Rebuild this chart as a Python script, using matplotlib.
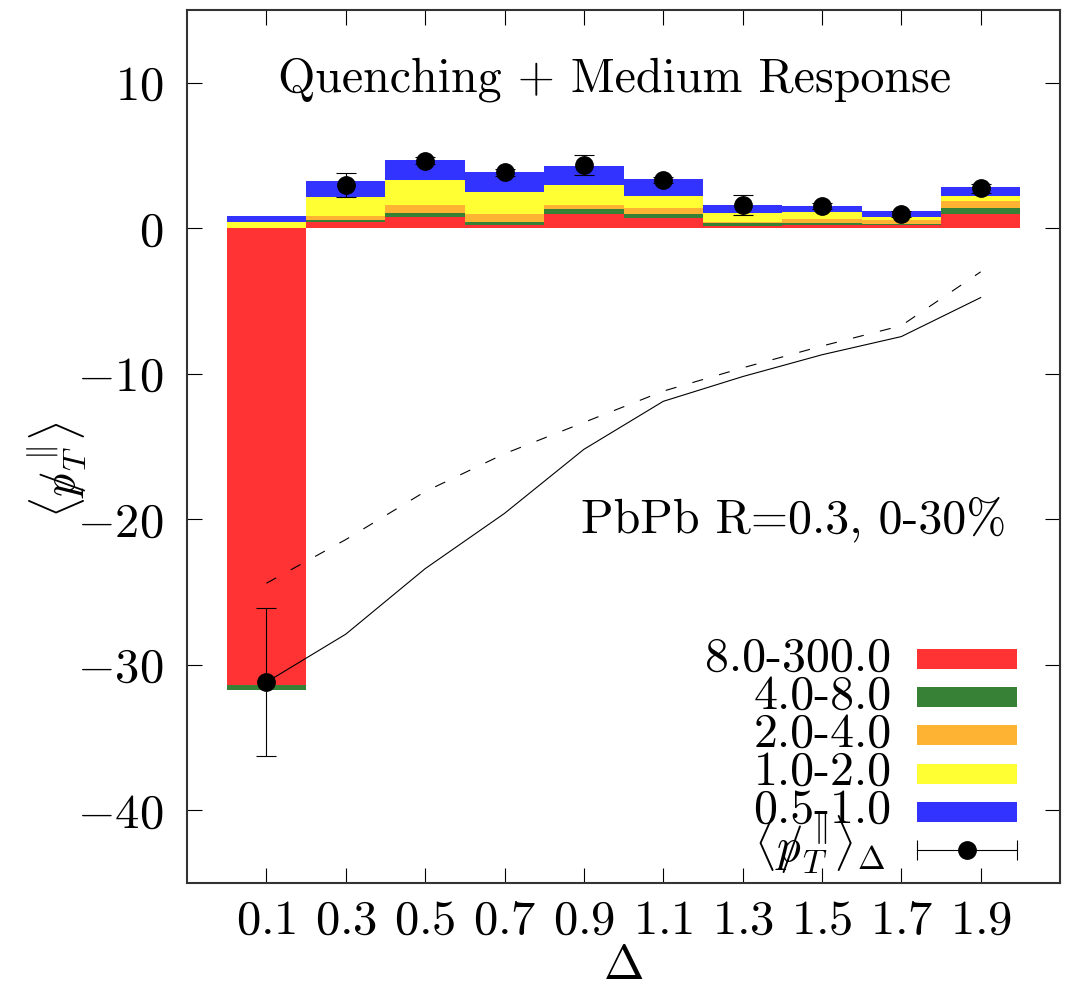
import numpy as np
import matplotlib
matplotlib.use('Agg')
import matplotlib.pyplot as plt
from matplotlib.patches import Rectangle

plt.rcParams['mathtext.fontset'] = 'cm'
plt.rcParams['font.family'] = ['cmr10', 'DejaVu Serif']
plt.rcParams['axes.formatter.use_mathtext'] = True

# Delta bins (centres) and bin width
delta = [0.1, 0.3, 0.5, 0.7, 0.9, 1.1, 1.3, 1.5, 1.7, 1.9]
delta_labels = ['0.1', '0.3', '0.5', '0.7', '0.9', '1.1', '1.3', '1.5', '1.7', '1.9']
bin_width = 0.2

# stacked contributions per track-pT bin (GeV)
pt_bins = ['8.0-300.0', '4.0-8.0', '2.0-4.0', '1.0-2.0', '0.5-1.0']
bin_colors = ['#ff3333', '#368136', '#ffb333', '#ffff33', '#3333ff']
contrib_8_300 = [-31.4, 0.44, 0.78, 0.21, 0.96, 0.69, 0.16, 0.25, 0.23, 0.99]
contrib_4_8 = [-0.35, 0.09, 0.25, 0.23, 0.34, 0.27, 0.18, 0.14, 0.07, 0.37]
contrib_2_4 = [0.0, 0.34, 0.57, 0.53, 0.32, 0.41, 0.11, 0.23, 0.23, 0.53]
contrib_1_2 = [0.43, 1.26, 1.70, 1.49, 1.33, 0.85, 0.57, 0.46, 0.25, 0.34]
contrib_05_1 = [0.39, 1.12, 1.40, 1.37, 1.33, 1.15, 0.60, 0.46, 0.37, 0.57]
contribs = [contrib_8_300, contrib_4_8, contrib_2_4, contrib_1_2, contrib_05_1]

# total missing pT per Delta bin
total_pt = [-31.2, 2.96, 4.63, 3.83, 4.33, 3.32, 1.60, 1.53, 0.99, 2.75]
total_err = [5.1, 0.85, 0.25, 0.25, 0.7, 0.2, 0.7, 0.2, 0.2, 0.3]

# cumulative curves
cumul_solid = [-31.2, -27.9, -23.4, -19.6, -15.2, -11.9, -10.2, -8.7, -7.45, -4.77]
cumul_dashed = [-24.4, -21.4, -18.1, -15.5, -13.35, -11.2, -9.6, -8.1, -6.7, -3.0]

y_ticks = [-40, -30, -20, -10, 0, 10]

fig = plt.figure(figsize=(10.69, 9.91), dpi=100)
ax = fig.add_axes([0.175, 0.109, 0.8166, 0.881])

# positive parts stack upwards from 0, negative parts downwards
pos = np.zeros(len(delta))
neg = np.zeros(len(delta))
for vals, col in zip(contribs, bin_colors):
    vals = np.asarray(vals)
    bottom = np.where(vals >= 0, pos, neg)
    ax.bar(delta, vals, width=bin_width, bottom=bottom, color=col,
           linewidth=0, zorder=2)
    pos += np.where(vals >= 0, vals, 0)
    neg += np.where(vals < 0, vals, 0)

ax.plot(delta, cumul_dashed, color='k', lw=0.8, ls=(0, (10, 15)), zorder=3)
ax.plot(delta, cumul_solid, color='k', lw=0.8, zorder=3)
ax.errorbar(delta, total_pt, yerr=total_err, fmt='o', color='k', ms=12.5,
            elinewidth=0.8, capsize=7, capthick=0.8, zorder=4)

ax.text(0.49, 0.92, 'Quenching + Medium Response', transform=ax.transAxes,
        ha='center', va='center', fontsize=34.5)
ax.text(0.695, 0.416, 'PbPb R=0.3, 0-30%', transform=ax.transAxes,
        ha='center', va='center', fontsize=34.5)

# legend, gnuplot style: label on the left, swatch on the right
row0 = 0.2566
row_step = 0.04376
sw_x, sw_w, sw_h = 0.836, 0.115, 0.0229
for i, (lab, col) in enumerate(zip(pt_bins, bin_colors)):
    yc = row0 - i * row_step
    ax.add_patch(Rectangle((sw_x, yc - sw_h / 2), sw_w, sw_h, color=col,
                           transform=ax.transAxes, lw=0, zorder=5))
    ax.text(0.807, yc - 0.013, lab, transform=ax.transAxes, ha='right',
            va='baseline', fontsize=34.5, zorder=5)
yc = row0 - 5 * row_step
ax.plot([sw_x, sw_x + sw_w], [yc, yc], color='k', lw=0.8,
        transform=ax.transAxes, zorder=5)
ax.plot([sw_x, sw_x + sw_w], [yc, yc], ls='none', marker='|', ms=14,
        mew=0.8, color='k', transform=ax.transAxes, zorder=5)
ax.plot([sw_x + sw_w / 2], [yc], 'o', color='k', ms=12.5,
        transform=ax.transAxes, zorder=5)
ax.text(0.80, yc - 0.013, r'$\langle {p\!\!\!/}_T^{\,\Vert}\rangle_\Delta$',
        transform=ax.transAxes, ha='right', va='baseline', fontsize=34, zorder=5)

ax.set_xlim(-0.1, 2.1)
ax.set_ylim(-45, 15)
ax.set_xticks(delta)
ax.set_xticklabels(['$' + s + '$' for s in delta_labels])
ax.set_yticks(y_ticks)
ax.set_yticklabels(['$%d$' % v for v in y_ticks])
ax.tick_params(direction='in', length=11, width=0.8, top=True, right=True,
               labelsize=35, colors='k')
ax.tick_params(axis='y', pad=17)
ax.tick_params(axis='x', pad=12)
for s in ax.spines.values():
    s.set_linewidth(1.5)
    s.set_color('#333333')

ax.set_xlabel(r'$\Delta$', fontsize=35)
ax.xaxis.set_label_coords(0.5, -0.071)
ax.set_ylabel(r'$\langle {p\!\!\!/}_T^{\,\Vert}\rangle$', fontsize=33)
ax.yaxis.set_label_coords(-0.111, 0.473)

fig.savefig('out.png', dpi=100)
